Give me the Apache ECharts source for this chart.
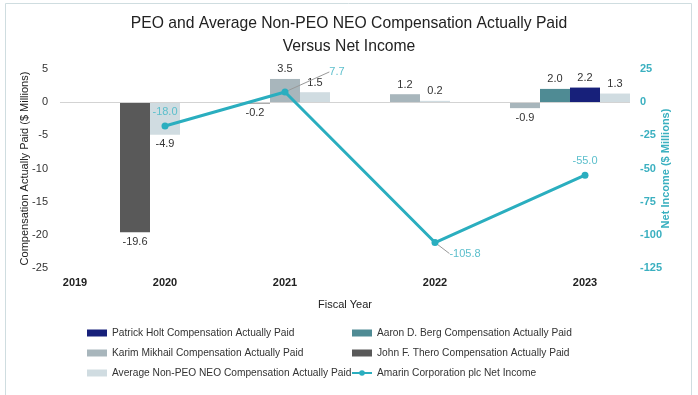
<!DOCTYPE html>
<html><head><meta charset="utf-8">
<script src="https://cdn.jsdelivr.net/npm/echarts@6/dist/echarts.min.js"></script>
<style>html,body{margin:0;padding:0;background:#fff}#c{width:698px;height:395px}</style>
</head><body><div id="c"></div>
<script>
// ---- data ----
const years = ['2019', '2020', '2021', '2022', '2023'];
const theroCAP   = [null, -19.6, -0.2, null, null];
const mikhailCAP = [null, null, 3.5, 1.2, -0.9];
const bergCAP    = [null, null, null, null, 2.0];
const holtCAP    = [null, null, null, null, 2.2];
const avgNeoCAP  = [null, -4.9, 1.5, 0.2, 1.3];
const netIncome  = [null, -18.0, 7.7, -105.8, -55.0];
const compAxisTicks   = [-25, -20, -15, -10, -5, 0, 5];
const incomeAxisTicks = [-125, -100, -75, -50, -25, 0, 25];

// ---- layout / style (not data) ----
const FONT = 'Liberation Sans, Arial, sans-serif';
const TEAL = '#2aaebf';
const barDefs = [
  { name: 'John F. Thero Compensation Actually Paid', data: theroCAP, color: '#595959' },
  { name: 'Karim Mikhail Compensation Actually Paid', data: mikhailCAP, color: '#a8b6bc' },
  { name: 'Aaron D. Berg Compensation Actually Paid', data: bergCAP, color: '#4f8b94' },
  { name: 'Patrick Holt Compensation Actually Paid', data: holtCAP, color: '#17207a' },
  { name: 'Average Non-PEO NEO Compensation Actually Paid', data: avgNeoCAP, color: '#d0dce1' }
];
const lineName = 'Amarin Corporation plc Net Income';
const gapSlots = [1, 2, 2, 2];
const lineLabelShift = { '2021': [52, -6], '2022': [30, 25] };

// Build clustered slots: only series with a value occupy a slot in a year group
const slotLabels = [], slotYear = [], slotOwner = [];
years.forEach((y, i) => {
  if (i > 0) for (let g = 0; g < gapSlots[i - 1]; g++) { slotLabels.push(''); slotYear.push(null); slotOwner.push(null); }
  const present = barDefs.map((s, k) => s.data[i] != null ? k : -1).filter(k => k >= 0);
  const members = present.length ? present : [-1];
  const mid = Math.floor(members.length / 2);
  members.forEach((k, j) => {
    slotLabels.push(j === mid ? y : '');
    slotYear.push(j === mid ? i : null);
    slotOwner.push(k >= 0 ? { s: k, yi: i } : null);
  });
});

const fmt = v => (v == null ? '' : Number(v).toFixed(1));

const series = barDefs.map((d, k) => ({
  name: d.name,
  type: 'bar',
  barGap: '-100%',
  barCategoryGap: 0,
  itemStyle: { color: d.color },
  label: {
    show: true, position: 'outside', distance: 4,
    color: '#333', fontSize: 11, fontFamily: FONT,
    formatter: p => fmt(p.value)
  },
  data: slotOwner.map(o => (o && o.s === k) ? d.data[o.yi] : null),
  markLine: k === 0 ? {
    silent: true, symbol: 'none', label: { show: false },
    lineStyle: { color: '#d3d3d3', width: 1, type: 'solid' },
    data: [{ yAxis: 0 }]
  } : undefined
}));

series.push({
  name: lineName,
  type: 'line',
  yAxisIndex: 1,
  connectNulls: true,
  symbol: 'circle',
  symbolSize: 7,
  z: 5,
  itemStyle: { color: TEAL },
  lineStyle: { color: TEAL, width: 3 },
  label: {
    show: true, position: 'top', color: '#5cbfcc', fontSize: 11, fontFamily: FONT,
    formatter: p => fmt(p.value)
  },
  labelLine: { show: false, lineStyle: { color: '#999', width: 1 } },
  labelLayout: p => {
    const yi = slotYear[p.dataIndex];
    const sh = yi != null ? lineLabelShift[years[yi]] : null;
    return sh ? { dx: sh[0], dy: sh[1] } : {};
  },
  data: slotYear.map(yi => {
    if (yi == null) return null;
    const v = netIncome[yi];
    if (v == null) return null;
    return lineLabelShift[years[yi]] ? { value: v, labelLine: { show: true } } : v;
  })
});

const legendCommon = {
  orient: 'vertical', itemWidth: 20, itemHeight: 7, itemGap: 10, itemTextGap: 2,
  textStyle: { color: '#333', fontSize: 10.2, fontFamily: FONT },
  selectedMode: false, top: 323
};

const chart = echarts.init(document.getElementById('c'), null, { renderer: 'canvas' });
chart.setOption({
  backgroundColor: '#fff',
  animation: false,
  textStyle: { fontFamily: FONT },
  graphic: [{
    type: 'rect', silent: true,
    shape: { x: 5.5, y: 3.5, width: 686, height: 400 },
    style: { fill: 'none', stroke: '#cfdde0', lineWidth: 1 }
  }],
  title: {
    text: 'PEO and Average Non-PEO NEO Compensation Actually Paid\nVersus Net Income',
    left: 'center', top: 7,
    textStyle: { fontSize: 15.7, fontWeight: 'normal', color: '#222', lineHeight: 23, fontFamily: FONT }
  },
  legend: [
    Object.assign({}, legendCommon, {
      left: 82,
      data: [barDefs[3].name, barDefs[1].name, barDefs[4].name].map(n => ({ name: n, icon: 'rect' }))
    }),
    Object.assign({}, legendCommon, {
      left: 346,
      data: [{ name: barDefs[2].name, icon: 'rect' }, { name: barDefs[0].name, icon: 'rect' }, { name: lineName }]
    })
  ],
  grid: { left: 60, right: 68, top: 69, bottom: 127, containLabel: false },
  xAxis: {
    type: 'category',
    data: slotLabels,
    name: 'Fiscal Year',
    nameLocation: 'middle',
    nameGap: 31,
    nameTextStyle: { color: '#222', fontSize: 11, fontFamily: FONT },
    axisLine: { show: false, onZero: false },
    axisTick: { show: false },
    axisLabel: { interval: 0, color: '#222', fontWeight: 'bold', fontSize: 11, margin: 9, fontFamily: FONT },
    splitLine: { show: false }
  },
  yAxis: [{
    type: 'value',
    min: compAxisTicks[0], max: compAxisTicks[compAxisTicks.length - 1],
    interval: compAxisTicks[1] - compAxisTicks[0],
    name: 'Compensation Actually Paid ($ Millions)',
    nameLocation: 'middle', nameRotate: 90, nameGap: 30, nameMoveOverlap: false,
    nameTextStyle: { color: '#222', fontSize: 11, fontFamily: FONT },
    axisLine: { show: false }, axisTick: { show: false },
    splitLine: { show: false },
    axisLabel: { color: '#333', fontSize: 11, margin: 12, fontFamily: FONT }
  }, {
    type: 'value',
    min: incomeAxisTicks[0], max: incomeAxisTicks[incomeAxisTicks.length - 1],
    interval: incomeAxisTicks[1] - incomeAxisTicks[0],
    name: 'Net Income ($ Millions)',
    nameLocation: 'middle', nameRotate: 90, nameGap: 30, nameMoveOverlap: false,
    nameTextStyle: { color: '#3bb0c0', fontSize: 11, fontWeight: 'bold', fontFamily: FONT },
    axisLine: { show: false }, axisTick: { show: false },
    splitLine: { show: false },
    axisLabel: { color: '#3bb0c0', fontSize: 11, fontWeight: 'bold', margin: 10, fontFamily: FONT }
  }],
  series: series
});
</script>
</body></html>
